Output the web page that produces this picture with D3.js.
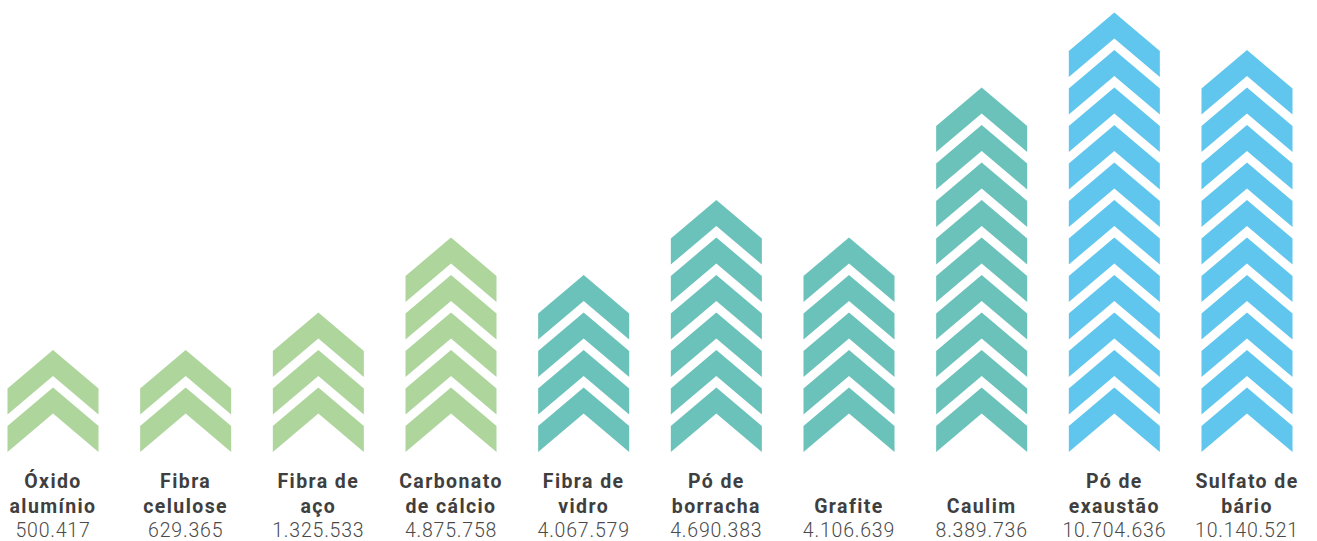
<!DOCTYPE html>
<html><head><meta charset="utf-8">
<script src="https://cdn.jsdelivr.net/npm/d3@7/dist/d3.min.js"></script>
<style>html,body{margin:0;padding:0;background:#fff;}svg{display:block;}</style>
</head><body>
<svg id="chart" width="1317" height="541"></svg>
<script>
const categories = [["Óxido","alumínio"],["Fibra","celulose"],["Fibra de","aço"],["Carbonato","de cálcio"],["Fibra de","vidro"],["Pó de","borracha"],["Grafite"],["Caulim"],["Pó de","exaustão"],["Sulfato de","bário"]];
const values = [500417, 629365, 1325533, 4875758, 4067579, 4690383, 4106639, 8389736, 10704636, 10140521];
const chevronCounts = [2, 2, 3, 5, 4, 6, 5, 9, 11, 10];
const groups = ["g","g","g","g","t","t","t","t","b","b"];
const colors = {g:"#aed59c", t:"#6bc2ba", b:"#60c6ee"};

const W = 1317, H = 541;
const svg = d3.select("#chart");
const x = d3.scaleBand().domain(d3.range(categories.length)).range([7.5, 1292.5]).paddingInner(0.314).paddingOuter(0);
const y = d3.scaleLinear().domain([0, 11]).range([387.5, -25]);
const bw = x.bandwidth();
const shoulder = 38.5, thick = 26;

const fmt = v => d3.format(",")(v).replace(/,/g, ".");

const col = svg.selectAll("g.col").data(categories.map((c,i)=>({c, i, n: chevronCounts[i], v: values[i], grp: groups[i]})))
  .enter().append("g").attr("class","col");

col.each(function(d){
  const g = d3.select(this);
  const x0 = x(d.i), cx = x0 + bw/2, x1 = x0 + bw;
  g.selectAll("path").data(d3.range(d.n)).enter().append("path")
    .attr("d", k => {
      const y0 = y(k);
      return `M${x0},${y0+shoulder}L${cx},${y0}L${x1},${y0+shoulder}L${x1},${y0+shoulder+thick}L${cx},${y0+thick}L${x0},${y0+shoulder+thick}Z`;
    })
    .attr("fill", colors[d.grp]);
  const lines = d.c;
  const base = [488, 513];
  lines.forEach((t, j) => {
    g.append("text").attr("x", cx).attr("y", base[2 - lines.length + j])
      .attr("text-anchor","middle").attr("font-family","Roboto, sans-serif")
      .attr("font-weight","bold").attr("font-size","19.5px").attr("letter-spacing","1.4px")
      .attr("fill","#3f3f3f").text(t);
  });
  g.append("text").attr("x", cx).attr("y", 537)
    .attr("text-anchor","middle").attr("font-family","Roboto, sans-serif")
    .attr("font-weight","300").attr("font-size","19.5px").attr("letter-spacing","0.8px")
    .attr("fill","#4a4a4a").text(fmt(d.v));
});
</script>
</body></html>
